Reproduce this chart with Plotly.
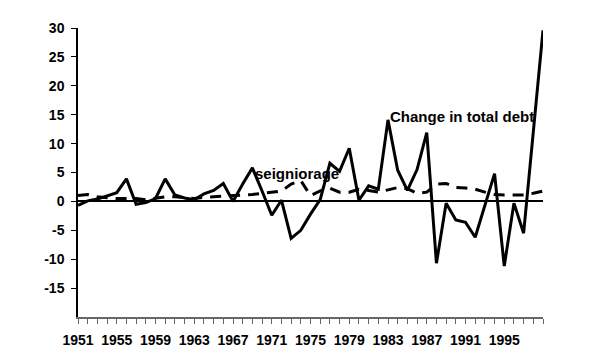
import plotly.graph_objects as go

years = list(range(1951, 2000))
debt = [-0.7, 0.1, 0.4, 1.0, 1.5, 3.9, -0.5, -0.2, 0.5, 3.9,
        1.1, 0.6, 0.3, 1.3, 1.9, 3.1, 0.0, 3.0, 5.8, 1.8,
        -2.4, 0.2, -6.4, -5.0, -2.2, 0.3, 6.6, 5.2, 9.2, 0.2,
        2.7, 2.1, 14.1, 5.4, 1.9, 5.5, 11.9, -10.7, -0.3, -3.2,
        -3.6, -6.2, -0.6, 4.8, -11.2, -0.3, -5.5, 12.5, 29.6]
seign = [1.0, 1.2, 0.8, 0.6, 0.5, 0.5, 0.5, 0.3, 0.6, 0.8,
         0.8, 0.6, 0.5, 0.7, 0.8, 0.8, 0.9, 1.0, 1.2, 1.4,
         1.6, 1.8, 3.0, 3.6, 1.0, 1.8, 2.3, 1.6, 1.6, 2.1,
         1.9, 1.6, 2.0, 2.4, 2.2, 1.4, 1.6, 3.0, 3.1, 2.4,
         2.3, 2.1, 1.6, 1.2, 1.1, 1.1, 1.1, 1.4, 1.8]
ytick_vals = [30, 25, 20, 15, 10, 5, 0, -5, -10, -15]
xtick_labels = [str(y) if (y - 1951) % 4 == 0 and y <= 1995 else "" for y in years]

fam = "Liberation Sans, Arial, sans-serif"
tickfont = dict(family=fam, size=14, color="black")
annfont = dict(family=fam, size=15, color="black")

fig = go.Figure()
fig.add_trace(go.Scatter(x=years, y=seign, mode="lines",
                         line=dict(color="black", width=3, dash="11px,8px"),
                         name="seigniorage"))
fig.add_trace(go.Scatter(x=years, y=debt, mode="lines",
                         line=dict(color="black", width=3),
                         name="Change in total debt"))

fig.add_annotation(x=1969.05, y=4.8, text="<b>seigniorage</b>", showarrow=False,
                   xanchor="left", yanchor="middle", font=annfont)
fig.add_annotation(x=1983.0, y=14.7, text="<b>Change in total debt</b>", showarrow=False,
                   xanchor="left", yanchor="middle", font=annfont)

# page body has an 8px default margin, so the figure is sized 592x352
fig.update_layout(
    width=592, height=352,
    margin=dict(l=70, r=57, t=20, b=40),
    paper_bgcolor="white", plot_bgcolor="white",
    showlegend=False,
    font=tickfont,
)
fig.update_xaxes(range=[1951, 1999], tickmode="array", tickvals=years,
                 ticktext=[f"<b>{t}</b>" if t else "" for t in xtick_labels],
                 ticks="outside", ticklen=5, tickcolor="#666", tickwidth=1,
                 showline=True, linecolor="#666", linewidth=1.5,
                 showgrid=False, zeroline=False, tickfont=tickfont,
                 ticklabelstandoff=4)
fig.update_yaxes(range=[-20, 30], tickmode="array", tickvals=ytick_vals,
                 ticktext=[f"<b>{v}</b>" for v in ytick_vals],
                 ticks="outside", ticklen=5, tickcolor="black", tickwidth=1,
                 showline=True, linecolor="black", linewidth=1.5,
                 showgrid=False, zeroline=True, zerolinecolor="black", zerolinewidth=2,
                 tickfont=tickfont, ticklabelstandoff=4)

fig.write_html("out.html")
